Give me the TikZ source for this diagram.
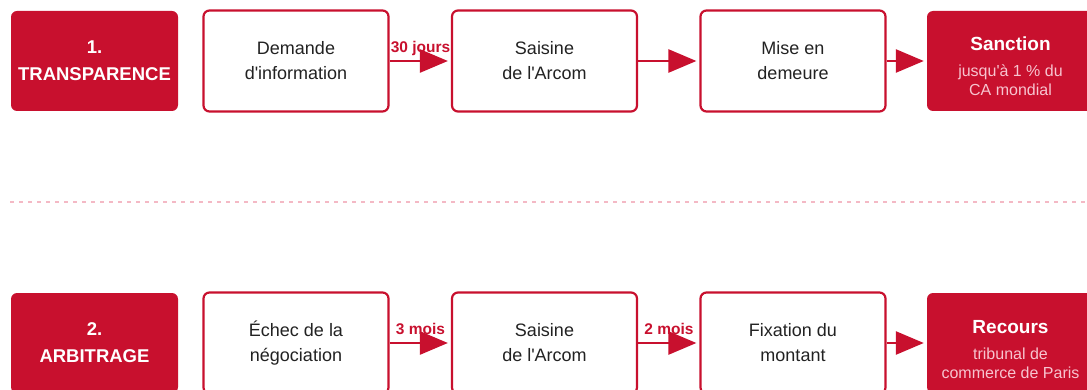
\documentclass[tikz,border=0pt]{standalone}
\usepackage{fontspec}
\setmainfont{Liberation Sans}[Ligatures=TeXOff]
\usetikzlibrary{arrows.meta}
\definecolor{brand}{HTML}{C8102E}
\definecolor{ink}{HTML}{222222}
\definecolor{softpink}{HTML}{F7C4CF}
\definecolor{dotpink}{HTML}{F4B9C5}
\tikzset{
  stage/.style={rectangle, rounded corners=6pt, fill=brand, draw=none, text=white,
    minimum width=167pt, minimum height=100pt, align=center, inner sep=0pt,
    font=\fontsize{18.5}{27}\selectfont\bfseries},
  stepbox/.style={rectangle, rounded corners=6pt, draw=brand, line width=2.2pt, fill=white,
    text=ink, minimum width=185pt, minimum height=101pt, align=center, inner sep=0pt,
    font=\fontsize{18}{25}\selectfont},
  endbox/.style={rectangle, rounded corners=6pt, fill=brand, draw=none,
    minimum width=167pt, minimum height=100pt, inner sep=0pt},
  endtext/.style={text=softpink, align=center, inner sep=0pt,
    font=\fontsize{16}{19}\selectfont},
  flow/.style={draw=brand, line width=2.6pt, -{Triangle[length=28pt,width=23pt]}, shorten >=3pt},
  delay/.style={text=brand, font=\fontsize{15.5}{16}\selectfont\bfseries, inner sep=0pt},
  sep/.style={draw=dotpink, line width=2pt, dash pattern=on 4pt off 5pt}
}
\newcommand{\boxhead}[1]{{\color{white}\fontsize{19}{19}\selectfont\bfseries #1}}
\begin{document}
\begin{tikzpicture}[x=1pt,y=-1pt]
\useasboundingbox (0,0) rectangle (1087,390);
% row 1
\node[stage] (t1) at (94.5,61) {1.\\TRANSPARENCE};
\node[stepbox] (a1) at (296,61) {Demande\\d'information};
\node[stepbox] (a2) at (544.5,61) {Saisine\\de l'Arcom};
\node[stepbox] (a3) at (793,61) {Mise en\\demeure};
\node[endbox] (a4) at (1010.5,61) {};
\node[endtext] (a4t) at ([yshift=-5.5pt]a4.center) {\boxhead{Sanction}\\[7pt]jusqu'à 1 \% du\\CA mondial};
\draw[flow] (a1) -- (a2);
\draw[flow] (a2) -- (a3);
\draw[flow] (a3) -- (a4);
\node[delay] (d1) at (420.5,48) {30 jours};
% separator
\coordinate (s1) at (10,202);
\coordinate (s2) at (1087,202);
\draw[sep] (s1) -- (s2);
% row 2
\node[stage] (t2) at (94.5,343) {2.\\ARBITRAGE};
\node[stepbox] (b1) at (296,343) {Échec de la\\négociation};
\node[stepbox] (b2) at (544.5,343) {Saisine\\de l'Arcom};
\node[stepbox] (b3) at (793,343) {Fixation du\\montant};
\node[endbox] (b4) at (1010.5,343) {};
\node[endtext] (b4t) at ([yshift=-6.5pt]b4.center) {\boxhead{Recours}\\[7pt]tribunal de\\commerce de Paris};
\draw[flow] (b1) -- (b2);
\draw[flow] (b2) -- (b3);
\draw[flow] (b3) -- (b4);
\node[delay] (d2) at (420.5,329) {3 mois};
\node[delay] (d3) at (669,329) {2 mois};
\end{tikzpicture}
\end{document}
